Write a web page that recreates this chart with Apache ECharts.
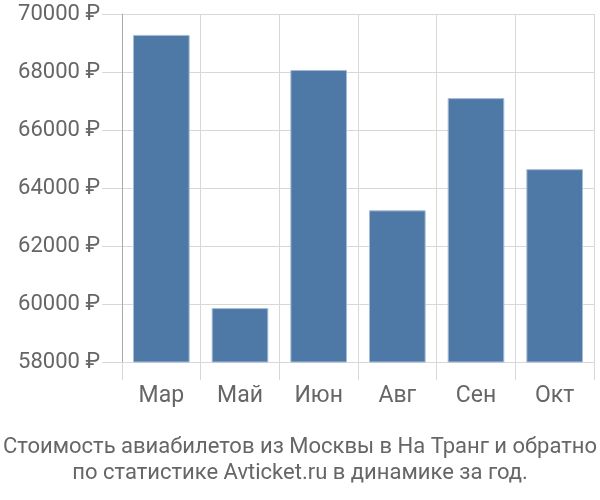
<!DOCTYPE html>
<html>
<head>
<meta charset="utf-8">
<script src="https://cdn.jsdelivr.net/npm/echarts@6/dist/echarts.min.js"></script>
<style>html,body{margin:0;padding:0;background:#fff}#c{width:600px;height:500px}</style>
</head>
<body>
<div id="c"></div>
<script>
const categories = ['Мар', 'Май', 'Июн', 'Авг', 'Сен', 'Окт'];
const prices = [69280, 59860, 68070, 63230, 67100, 64650];
const yMin = 58000, yMax = 70000, yStep = 2000;
const titleLines = ['Стоимость авиабилетов из Москвы в На Транг и обратно', 'по статистике Avticket.ru в динамике за год.'];

const chart = echarts.init(document.getElementById('c'));
const font = 'Roboto, "Liberation Sans", sans-serif';
chart.setOption({
  animation: false,
  textStyle: { fontFamily: font },
  title: {
    text: titleLines.join('\n'),
    left: 'center',
    top: 429,
    textStyle: { fontSize: 22, fontWeight: 'normal', color: '#666', lineHeight: 26, fontFamily: font }
  },
  grid: { left: 122, right: 6, top: 14, bottom: 138 },
  xAxis: {
    type: 'category',
    data: categories,
    axisLine: { show: true, lineStyle: { color: '#d8d8d8' } },
    axisTick: { show: true, length: 18, lineStyle: { color: '#d8d8d8' } },
    splitLine: { show: true, lineStyle: { color: '#d8d8d8' } },
    axisLabel: { fontSize: 23, color: '#666', margin: 23, fontFamily: font }
  },
  yAxis: {
    type: 'value',
    min: yMin, max: yMax, interval: yStep,
    axisLine: { show: true, lineStyle: { color: '#aaa' } },
    axisTick: { show: true, length: 20, lineStyle: { color: '#d8d8d8' } },
    splitLine: { show: true, lineStyle: { color: '#d8d8d8' } },
    axisLabel: { fontSize: 22, color: '#666', margin: 22, fontFamily: font, formatter: v => v + ' ₽' }
  },
  series: [{
    type: 'bar',
    data: prices,
    barCategoryGap: '28%',
    itemStyle: { color: '#4e79a7', borderColor: '#a8bcd6', borderWidth: 1 }
  }]
});
</script>
</body>
</html>
